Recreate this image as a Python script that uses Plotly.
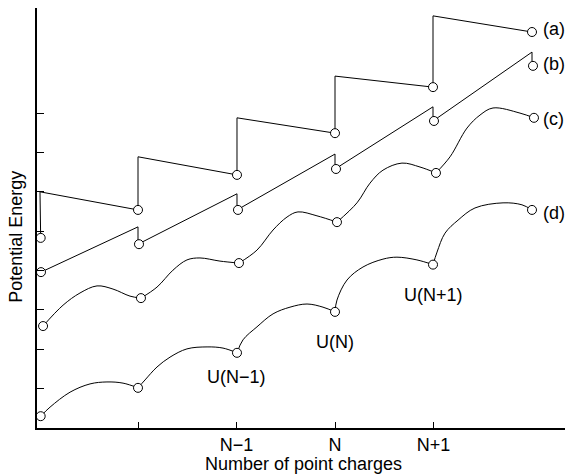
import plotly.graph_objects as go

# positions along x are in "number of charges" units (N-1 = 2, N = 3, N+1 = 4)
# energies in arbitrary units (one y tick = 1)

# (a) straight saw-tooth
a_x = [0.012, 0.005, 1.0, 1.0, 2.005, 2.005, 3.0, 3.0, 3.995, 3.995, 5.0]
a_y = [4.83, 6.00, 5.54, 6.89, 6.43, 7.88, 7.49, 8.94, 8.66, 10.47, 10.06]
a_pts_x = [0.012, 1.0, 2.005, 3.0, 3.995, 5.0]
a_pts_y = [4.83, 5.54, 6.43, 7.49, 8.66, 10.06]

# (b) rising ramps with small drops
b_x = [0.015, 1.0, 1.0, 2.005, 2.005, 3.0, 3.0, 3.995, 3.995, 5.0, 5.0]
b_y = [3.96, 5.11, 4.67, 5.95, 5.54, 6.96, 6.58, 8.16, 7.80, 9.55, 9.20]
b_pts_x = [0.015, 1.01, 2.015, 3.01, 4.005, 5.01]
b_pts_y = [3.96, 4.67, 5.54, 6.58, 7.80, 9.20]

# (c) wavy curve, one segment per step
c_segs = [
    ([0.036, 0.239, 0.411, 0.584, 0.746, 0.919, 1.030],
     [2.59, 3.12, 3.43, 3.61, 3.53, 3.35, 3.30]),
    ([1.030, 1.193, 1.355, 1.497, 1.629, 1.832, 2.025],
     [3.30, 3.58, 4.01, 4.27, 4.32, 4.24, 4.19]),
    ([2.025, 2.208, 2.371, 2.513, 2.624, 2.817, 3.020],
     [4.19, 4.52, 5.03, 5.36, 5.49, 5.39, 5.23]),
    ([3.020, 3.223, 3.355, 3.487, 3.680, 3.863, 4.025],
     [5.23, 5.72, 6.22, 6.55, 6.73, 6.63, 6.48]),
    ([4.025, 4.168, 4.340, 4.472, 4.604, 4.878, 5.020],
     [6.48, 6.89, 7.62, 7.95, 8.13, 8.00, 7.88]),
]
c_pts_x = [0.036, 1.03, 2.025, 3.02, 4.025, 5.02]
c_pts_y = [2.59, 3.30, 4.19, 5.23, 6.48, 7.88]

# (d) arcs between integer charges
d_segs = [
    ([0.012, 0.107, 0.310, 0.513, 0.685, 0.848, 1.0],
     [0.30, 0.53, 0.91, 1.12, 1.17, 1.14, 1.02]),
    ([1.0, 1.071, 1.193, 1.325, 1.497, 1.701, 1.863, 2.005],
     [1.02, 1.22, 1.55, 1.80, 2.01, 2.06, 2.03, 1.91]),
    ([2.005, 2.066, 2.208, 2.371, 2.543, 2.716, 2.878, 3.0],
     [1.91, 2.24, 2.57, 2.90, 3.07, 3.15, 3.07, 2.95]),
    ([3.0, 3.020, 3.122, 3.284, 3.487, 3.629, 3.832, 3.995],
     [2.95, 3.25, 3.76, 4.09, 4.29, 4.34, 4.27, 4.15]),
    ([3.995, 4.036, 4.117, 4.249, 4.421, 4.706, 4.898, 5.0],
     [4.15, 4.47, 4.95, 5.28, 5.59, 5.72, 5.67, 5.54]),
]
d_pts_x = [0.012, 1.0, 2.005, 3.0, 3.995, 5.0]
d_pts_y = [0.30, 1.02, 1.91, 2.95, 4.15, 5.54]

curve_labels = ["(a)", "(b)", "(c)", "(d)"]
curve_label_y = [10.13, 9.25, 7.85, 5.46]

u_labels = ["U(N\u22121)", "U(N)", "U(N+1)"]
u_label_x = [1.995, 3.0, 4.005]
u_label_y = [1.30, 2.18, 3.38]

x_tickvals = [1, 2, 3, 4]
x_ticktext = ["", "N\u22121", "N", "N+1"]
y_tickvals = [1, 2, 3, 4, 5, 6, 7, 8]


def join(segs):
    xs, ys = [], []
    for sx, sy in segs:
        xs += sx + [None]
        ys += sy + [None]
    return xs, ys


FONT = "Liberation Sans, Arial, sans-serif"
line = dict(color="black", width=1)
marker = dict(symbol="circle", size=9, color="white",
              line=dict(color="black", width=1))

fig = go.Figure()

fig.add_trace(go.Scatter(x=a_x, y=a_y, mode="lines", line=line))
fig.add_trace(go.Scatter(x=b_x, y=b_y, mode="lines", line=line))
cx, cy = join(c_segs)
fig.add_trace(go.Scatter(x=cx, y=cy, mode="lines", line=dict(line, shape="spline")))
dx, dy = join(d_segs)
fig.add_trace(go.Scatter(x=dx, y=dy, mode="lines", line=dict(line, shape="spline")))

for px_, py_ in [(a_pts_x, a_pts_y), (b_pts_x, b_pts_y),
                 (c_pts_x, c_pts_y), (d_pts_x, d_pts_y)]:
    fig.add_trace(go.Scatter(x=px_, y=py_, mode="markers", marker=marker,
                             cliponaxis=False))

for txt, yy in zip(curve_labels, curve_label_y):
    fig.add_annotation(x=5.09, y=yy, text=txt, showarrow=False,
                       xanchor="left", yanchor="middle")

for txt, xx, yy in zip(u_labels, u_label_x, u_label_y):
    fig.add_annotation(x=xx, y=yy, text=txt, showarrow=False,
                       xanchor="center", yanchor="middle")

fig.add_annotation(text="Potential Energy", xref="paper", yref="paper",
                   x=-0.04, y=0.455, textangle=-90, showarrow=False,
                   xanchor="center", yanchor="middle")
fig.add_annotation(text="Number of point charges", xref="paper", yref="paper",
                   x=0.504, y=-0.086, showarrow=False,
                   xanchor="center", yanchor="middle")

fig.update_xaxes(range=[-0.0254, 5.335], showgrid=False, zeroline=False,
                 showline=True, linecolor="black", linewidth=1.5,
                 ticks="inside", ticklen=6, tickwidth=1, tickcolor="black",
                 tickvals=x_tickvals, ticktext=x_ticktext)
fig.update_yaxes(range=[0, 10.67], showgrid=False, zeroline=False,
                 showline=True, linecolor="black", linewidth=1.5,
                 ticks="inside", ticklen=7, tickwidth=1, tickcolor="black",
                 tickvals=y_tickvals, showticklabels=False)

fig.update_layout(width=571, height=476,
                  margin=dict(l=37, r=6, t=8, b=48),
                  plot_bgcolor="white", paper_bgcolor="white",
                  showlegend=False, hovermode=False,
                  font=dict(family=FONT, size=18, color="black"))

# drop the page's default body margin so the figure sits at the window corner
fig.write_html("out.html",
               config={"displayModeBar": False},
               post_script="document.body.style.margin='0';")
